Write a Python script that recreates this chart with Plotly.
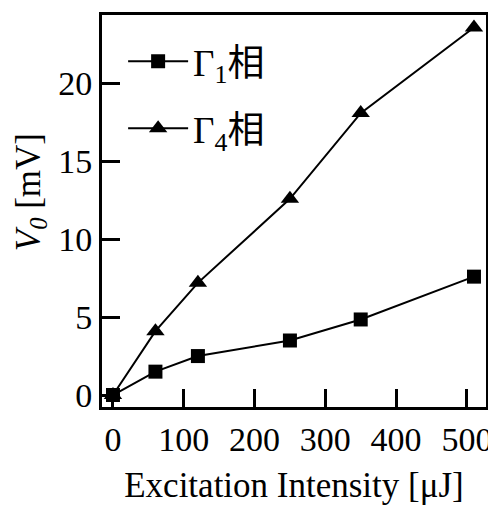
import plotly.graph_objects as go

intensity = [0, 60, 120, 250, 350, 510]
gamma1 = [0, 1.5, 2.5, 3.5, 4.85, 7.6]
gamma4 = [0, 4.1, 7.2, 12.6, 18.1, 23.6]
x_ticks = [0, 100, 200, 300, 400, 500]
y_ticks = [0, 5, 10, 15, 20]
names = ["Γ<sub>1</sub>相", "Γ<sub>4</sub>相"]
x_title = "Excitation Intensity [μJ]"
y_title = "<i>V<sub>0</sub></i> [mV]"

FONT = "Liberation Serif, Times New Roman, Noto Sans CJK JP, serif"

fig = go.Figure()
fig.add_trace(go.Scatter(x=intensity, y=gamma1, mode="lines+markers", name=names[0],
                         legendgroup="g1",
                         line=dict(color="black", width=2),
                         marker=dict(symbol="square", size=14, color="black")))
fig.add_trace(go.Scatter(x=intensity, y=gamma4, mode="lines+markers", name=names[1],
                         legendgroup="g4",
                         line=dict(color="black", width=2),
                         marker=dict(symbol="triangle-up", size=16, color="black")))

axis_common = dict(showline=True, linewidth=3, linecolor="black", mirror=True,
                   ticks="inside", ticklen=18, tickwidth=2.5, tickcolor="black",
                   showgrid=False, zeroline=False, automargin=False,
                   tickfont=dict(family=FONT, size=34, color="black"))

fig.update_layout(
    width=496, height=507,
    margin=dict(l=94, r=18, t=7, b=108),
    paper_bgcolor="white", plot_bgcolor="white",
    font=dict(family=FONT, size=34, color="black"),
    showlegend=True,
    legend=dict(x=0.055, y=0.96, xanchor="left", yanchor="top",
                bgcolor="rgba(0,0,0,0)", font=dict(family=FONT, size=37, color="black"),
                itemwidth=60, tracegroupgap=16),
    xaxis=dict(range=[-15.5, 527], tickvals=x_ticks,
               title=dict(text=x_title, font=dict(family=FONT, size=35), standoff=16),
               **axis_common),
    yaxis=dict(range=[-0.77, 24.4], tickvals=y_ticks, **axis_common),
    annotations=[dict(text=y_title, xref="paper", yref="paper", x=0, y=0.548,
                      xanchor="center", yanchor="middle", xshift=-72, textangle=-90,
                      showarrow=False, font=dict(family=FONT, size=35, color="black"))],
)

fig.write_html("out.html")
